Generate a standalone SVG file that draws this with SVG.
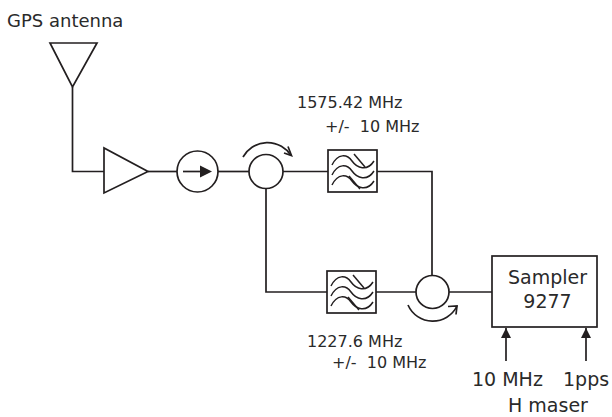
<svg xmlns="http://www.w3.org/2000/svg" width="612" height="417" viewBox="0 0 612 417">
<defs>
<style>
.s{fill:none;stroke:#231f20;stroke-width:1.7;stroke-linejoin:miter}
.t{font-family:"DejaVu Sans","Noto Sans",sans-serif;fill:#2a2a2a}
.w{fill:none;stroke:#231f20;stroke-width:1.5}
</style>
<marker id="ah" markerWidth="10" markerHeight="12" refX="10" refY="5" orient="auto" markerUnits="userSpaceOnUse">
<path d="M0,0 L10,5 L0,10 Z" fill="#231f20"/>
</marker>
<g id="filt">
<rect x="0" y="0" width="49" height="42" class="s"/>
<path class="w" d="M4,15 C10,3 19,4 24,11 S39,22 46,11"/>
<path class="w" d="M4,25 C10,13 19,14 24,21 S39,32 46,21"/>
<path class="w" d="M4,35 C10,23 19,24 24,31 S39,42 46,31"/>
<path class="w" d="M26,4 L37,17"/>
<path class="w" d="M21,26 L32,39"/>
</g>
</defs>
<rect width="612" height="417" fill="#fff"/>
<text class="t" x="7" y="27" font-size="18">GPS antenna</text>
<g id="antenna"><path class="s" d="M50,43 L97,43 L72.5,87 Z"/></g>
<g id="amplifier"><path class="s" d="M104,148 L104,193 L148,171.5 Z"/></g>
<g id="isolator">
<circle class="s" cx="197.5" cy="171.5" r="20.5"/>
<line class="s" x1="183" y1="171.5" x2="201" y2="171.5"/>
<path d="M200,165.5 L212,171.5 L200,177.5 Z" fill="#231f20"/>
</g>
<g id="circulator1">
<circle class="s" cx="266" cy="171.5" r="17"/>
<path class="s" d="M243,157 A28,28 0 0 1 291,155.5"/>
<path class="s" d="M288,146.5 L291.5,155.5 L284,153"/>
</g>
<g id="filter1"><use href="#filt" x="328" y="150"/></g>
<g id="filter2"><use href="#filt" x="327" y="271"/></g>
<g id="circulator2">
<circle class="s" cx="432.5" cy="292" r="16.5"/>
<path class="s" d="M408,305 A27,27 0 0 0 457,306"/>
<path class="s" d="M448,306.5 L457,306 L456,314.5"/>
</g>
<g id="sampler">
<rect class="s" x="492" y="256" width="105" height="71"/>
<text class="t" x="547.5" y="284" font-size="19" text-anchor="middle">Sampler</text>
<text class="t" x="547.5" y="308" font-size="19" text-anchor="middle">9277</text>
</g>
<g id="labels">
<text class="t" x="297" y="108" font-size="16">1575.42 MHz</text>
<text class="t" x="325" y="132" font-size="16" xml:space="preserve">+/-  10 MHz</text>
<text class="t" x="307" y="347" font-size="16">1227.6 MHz</text>
<text class="t" x="332" y="368" font-size="16" xml:space="preserve">+/-  10 MHz</text>
<text class="t" x="472" y="386" font-size="19">10 MHz</text>
<text class="t" x="563" y="386" font-size="19">1pps</text>
<text class="t" x="508" y="412" font-size="19">H maser</text>
</g>
<g id="connectors">
<polyline class="s" points="72.5,87 72.5,171.5 104,171.5"/>
<line class="s" x1="148" y1="171.5" x2="177" y2="171.5"/>
<line class="s" x1="218" y1="171.5" x2="249" y2="171.5"/>
<line class="s" x1="283" y1="171.5" x2="328" y2="171.5"/>
<polyline class="s" points="377,171.5 432,171.5 432,275.5"/>
<polyline class="s" points="266,188.5 266,292 327,292"/>
<line class="s" x1="376" y1="292" x2="416" y2="292"/>
<line class="s" x1="449" y1="292" x2="492" y2="292"/>
<line class="s" x1="506" y1="361" x2="506" y2="328" marker-end="url(#ah)"/>
<line class="s" x1="586" y1="361" x2="586" y2="328" marker-end="url(#ah)"/>
</g>
</svg>
